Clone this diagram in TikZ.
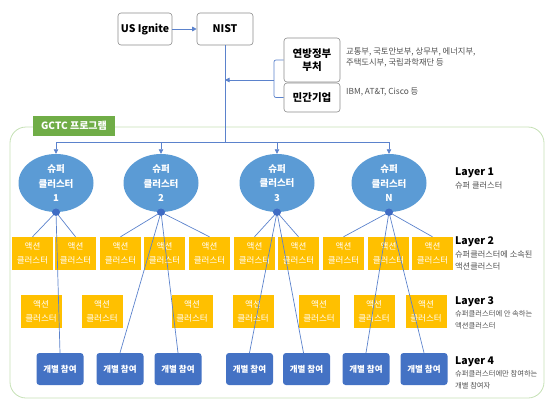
\documentclass[tikz,border=0pt]{standalone}
\usepackage{fontspec}
\setmainfont{Noto Sans CJK KR}
\usetikzlibrary{arrows.meta,shapes.geometric}
\definecolor{scblue}{HTML}{5B9BD5}
\definecolor{hubblue}{HTML}{3F6CC4}
\definecolor{linkblue}{HTML}{5B82CC}
\definecolor{actyellow}{HTML}{FFC000}
\definecolor{indblue}{HTML}{4472C4}
\definecolor{gctcgreen}{HTML}{70AD47}
\definecolor{gctcline}{HTML}{C5E0B4}
\definecolor{subgray}{HTML}{505050}
\definecolor{boxgray}{HTML}{8C8C8C}
\begin{document}
\begin{tikzpicture}[x=1pt,y=-1pt,
 topbox/.style={draw=boxgray, line width=0.6pt, rounded corners=3pt, fill=white, align=center, inner sep=0pt,
   font=\bfseries\fontsize{10.5}{13}\selectfont},
 sc/.style={ellipse, fill=scblue, minimum width=75, minimum height=58, text=white, align=center, inner sep=0pt,
   font=\bfseries\fontsize{9.5}{14.5}\selectfont},
 hub/.style={circle, fill=hubblue, minimum size=7pt, inner sep=0pt},
 act/.style={fill=actyellow, minimum width=41, minimum height=33, text=white, align=center, inner sep=0pt,
   font=\fontsize{8.5}{14}\selectfont},
 ind/.style={fill=indblue, rounded corners=3pt, minimum width=47, minimum height=32, text=white, inner sep=0pt,
   font=\bfseries\fontsize{8.5}{10}\selectfont},
 link/.style={draw=linkblue, line width=0.7pt},
 arr/.style={link, -{Triangle[length=4.5pt,width=4.5pt]}},
 ltitle/.style={anchor=west, inner sep=0pt, font=\bfseries\fontsize{10.5}{12}\selectfont},
 lsub/.style={anchor=north west, align=left, text=subgray, inner sep=0pt, font=\fontsize{8.2}{12}\selectfont},
 lsubsmall/.style={lsub, font=\fontsize{7.3}{12}\selectfont},
 note/.style={anchor=west, align=left, text=subgray, inner sep=0pt, font=\fontsize{8.3}{11}\selectfont}
]
\useasboundingbox (0,0) rectangle (546,402);

% GCTC program frame
\draw[gctcline, line width=0.8pt, rounded corners=16pt] (10,127) rectangle (544,398);
\node[fill=gctcgreen, minimum width=82, minimum height=20, inner sep=0pt, text=white,
      font=\bfseries\fontsize{10}{12}\selectfont] (gctc) at (74,126) {GCTC 프로그램};

% top boxes
\node[topbox, minimum width=54, minimum height=32] (usi) at (145,29) {US Ignite};
\node[topbox, minimum width=56, minimum height=32] (nist) at (225,29) {NIST};
\node[topbox, minimum width=56, minimum height=44] (fed) at (312,60) {연방정부\\부처};
\node[topbox, minimum width=56, minimum height=29] (priv) at (312,97.5) {민간기업};
\node[note] (fednote) at (346,57.5) {교통부, 국토안보부, 상무부, 에너지부,\\주택도시부, 국립과학재단 등};
\node[note] (privnote) at (346,92) {IBM, AT\&T, Cisco 등};

\draw[arr] (usi) -- (nist);
\coordinate (br) at (274,80);
\draw[link, rounded corners=2pt] (fed.west) -- (fed.west -| br) |- (priv.west);
\draw[arr] (br) -- (br -| nist.south);

% super clusters
\node[sc] (s1) at (56,183) {슈퍼\\클러스터\\1};
\node[sc] (s2) at (161,183) {슈퍼\\클러스터\\2};
\node[sc] (s3) at (277,183) {슈퍼\\클러스터\\3};
\node[sc] (sN) at (389,183) {슈퍼\\클러스터\\N};

\coordinate (j) at (225,142);
\draw[link] (nist.south) -- (j);
\draw[link] (s1.north |- j) -- (sN.north |- j);
\foreach \s in {s1,s2,s3,sN} \draw[arr] (\s.north |- j) -- (\s.north);

% layer 2 action clusters
\foreach \n/\x in {1/32.5,2/75.5,3/120.5,4/164.5,5/209.5,6/254.5,7/298.5,8/343.5,9/388.5,10/432.5}
  \node[act] (a\n) at (\x,253.5) {액션\\클러스터};
% layer 3 action clusters
\foreach \n/\x in {1/41,2/102,3/192,4/253,5/319,6/374,7/426}
  \node[act] (b\n) at (\x,311.5) {액션\\클러스터};
% layer 4 individuals
\foreach \n/\x in {1/60,2/120,3/178,4/249.5,5/306.5,6/366,7/424}
  \node[ind] (d\n) at (\x,369) {개별 참여};

% hubs
\node[hub] (h1) at (s1.south) {};
\node[hub] (h2) at (s2.south) {};
\node[hub] (h3) at (s3.south) {};
\node[hub] (hN) at (sN.south) {};

\draw[link] (h1.center) -- (a1.north);
\draw[link] (h1.center) -- (a2.north);
\draw[link] (h1.center) -- (d1.north);
\draw[link] (h2.center) -- (a3.north);
\draw[link] (h2.center) -- (a5.north);
\draw[link] (h2.center) -- (d2.north);
\draw[link] (h2.center) -- (d3.north);
\draw[link] (h3.center) -- (a6.north);
\draw[link] (h3.center) -- (a7.north);
\draw[link] (h3.center) -- (d4.north);
\draw[link] (h3.center) -- ([xshift=-3pt]d5.north);
\draw[link] (hN.center) -- (a8.north);
\draw[link] (hN.center) -- (a10.north);
\draw[link] (hN.center) -- (d6.north);
\draw[link] (hN.center) -- (d7.north);
\foreach \h in {h1,h2,h3,hN} \fill[hubblue] (\h) ellipse (4pt and 3.5pt);

% layer labels
\node[ltitle] (l1) at (455,173) {Layer 1};
\node[lsub] (l1s) at (455,182) {슈퍼 클러스터};
\node[ltitle] (l2) at (455,242) {Layer 2};
\node[lsub] (l2s) at (455,251) {슈퍼클러스터에 소속된\\액션클러스터};
\node[ltitle] (l3) at (455,302) {Layer 3};
\node[lsubsmall] (l3s) at (455,310) {슈퍼클러스터에 안 속하는\\액션클러스터};
\node[ltitle] (l4) at (455,362) {Layer 4};
\node[lsubsmall] (l4s) at (455,370) {슈퍼클러스터에만 참여하는\\개별 참여자};
\end{tikzpicture}
\end{document}
